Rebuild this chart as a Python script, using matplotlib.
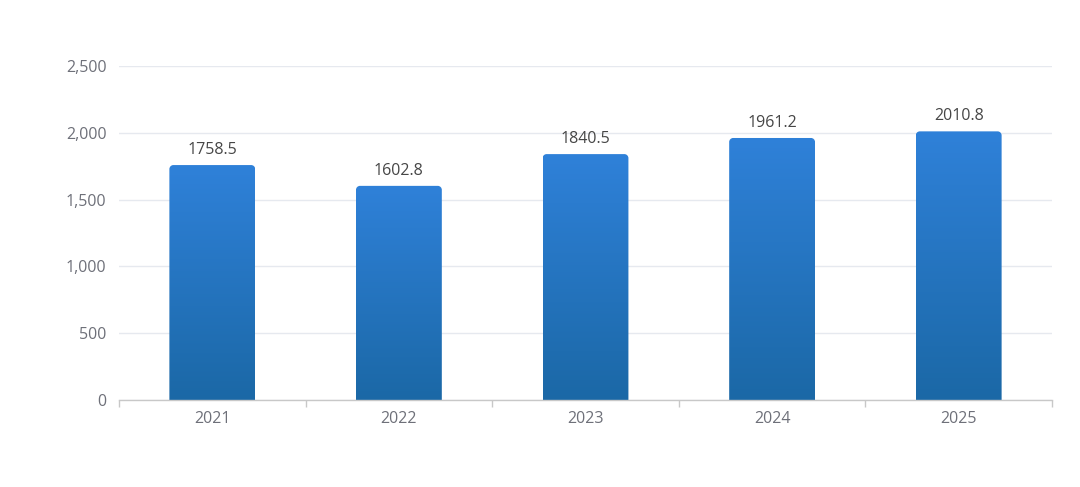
import matplotlib
matplotlib.use("Agg")
import matplotlib.pyplot as plt
import numpy as np
from matplotlib.path import Path
from matplotlib.patches import PathPatch
from matplotlib.colors import LinearSegmentedColormap
from matplotlib.ticker import FuncFormatter, MultipleLocator

years = ["2021", "2022", "2023", "2024", "2025"]
values = [1758.5, 1602.8, 1840.5, 1961.2, 2010.8]

plt.rcParams['font.family'] = ['Open Sans', 'DejaVu Sans']

W, H = 1080, 487
fig = plt.figure(figsize=(W / 100, H / 100), dpi=100)
left, right, top, bottom = 119, 1052, 66, 400
ax = fig.add_axes([left / W, (H - bottom) / H, (right - left) / W, (bottom - top) / H])
ax.set_xlim(-0.5, len(years) - 0.5)
ax.set_ylim(0, 2500)

px_x = (right - left) / len(years)
px_y = (bottom - top) / 2500
r_px = 4
rx, ry = r_px / px_x, r_px / px_y
bw = 0.46
k = 0.5523

cmap = LinearSegmentedColormap.from_list("g", ["#1b68a6", "#2f81d9"])
grad = np.linspace(0, 1, 256).reshape(-1, 1)

for i, v in enumerate(values):
    x0, x1 = i - bw / 2, i + bw / 2
    verts = [
        (x0, 0), (x0, v - ry),
        (x0, v - ry + k * ry), (x0 + rx - k * rx, v), (x0 + rx, v),
        (x1 - rx, v),
        (x1 - rx + k * rx, v), (x1, v - ry + k * ry), (x1, v - ry),
        (x1, 0), (x0, 0),
    ]
    codes = [Path.MOVETO, Path.LINETO,
             Path.CURVE4, Path.CURVE4, Path.CURVE4,
             Path.LINETO,
             Path.CURVE4, Path.CURVE4, Path.CURVE4,
             Path.LINETO, Path.CLOSEPOLY]
    patch = PathPatch(Path(verts, codes), facecolor="none", edgecolor="none")
    ax.add_patch(patch)
    im = ax.imshow(grad, extent=[x0, x1, 0, v], origin="lower", aspect="auto",
                   cmap=cmap, zorder=3)
    im.set_clip_path(patch)
    ax.annotate(f"{v}", xy=(i, v), xytext=(0, 5), textcoords="offset points",
                ha="center", va="bottom", fontsize=11.5, color="#464646", zorder=4)

ax.set_xlim(-0.5, len(years) - 0.5)
ax.set_ylim(0, 2500)

ax.yaxis.set_major_locator(MultipleLocator(500))
ax.yaxis.set_major_formatter(FuncFormatter(lambda y, p: f"{int(y):,}"))
ax.grid(axis="y", color="#e6e9ef", linewidth=1, zorder=0)
ax.set_axisbelow(True)

ax.set_xticks(range(len(years)))
ax.set_xticklabels(years)
ax.set_xticks(np.arange(-0.5, len(years)), minor=True)
ax.tick_params(axis="x", which="major", length=0, pad=8, labelsize=11.5, labelcolor="#6e7079")
ax.tick_params(axis="x", which="minor", length=5, color="#c8c8c8", width=1)
ax.tick_params(axis="y", length=0, pad=9, labelsize=11.5, labelcolor="#6e7079")

for s in ["top", "right", "left"]:
    ax.spines[s].set_visible(False)
ax.spines["bottom"].set_color("#c8c8c8")
ax.spines["bottom"].set_linewidth(1)
ax.spines["bottom"].set_zorder(5)

fig.savefig("out.png", dpi=100, facecolor="white")
